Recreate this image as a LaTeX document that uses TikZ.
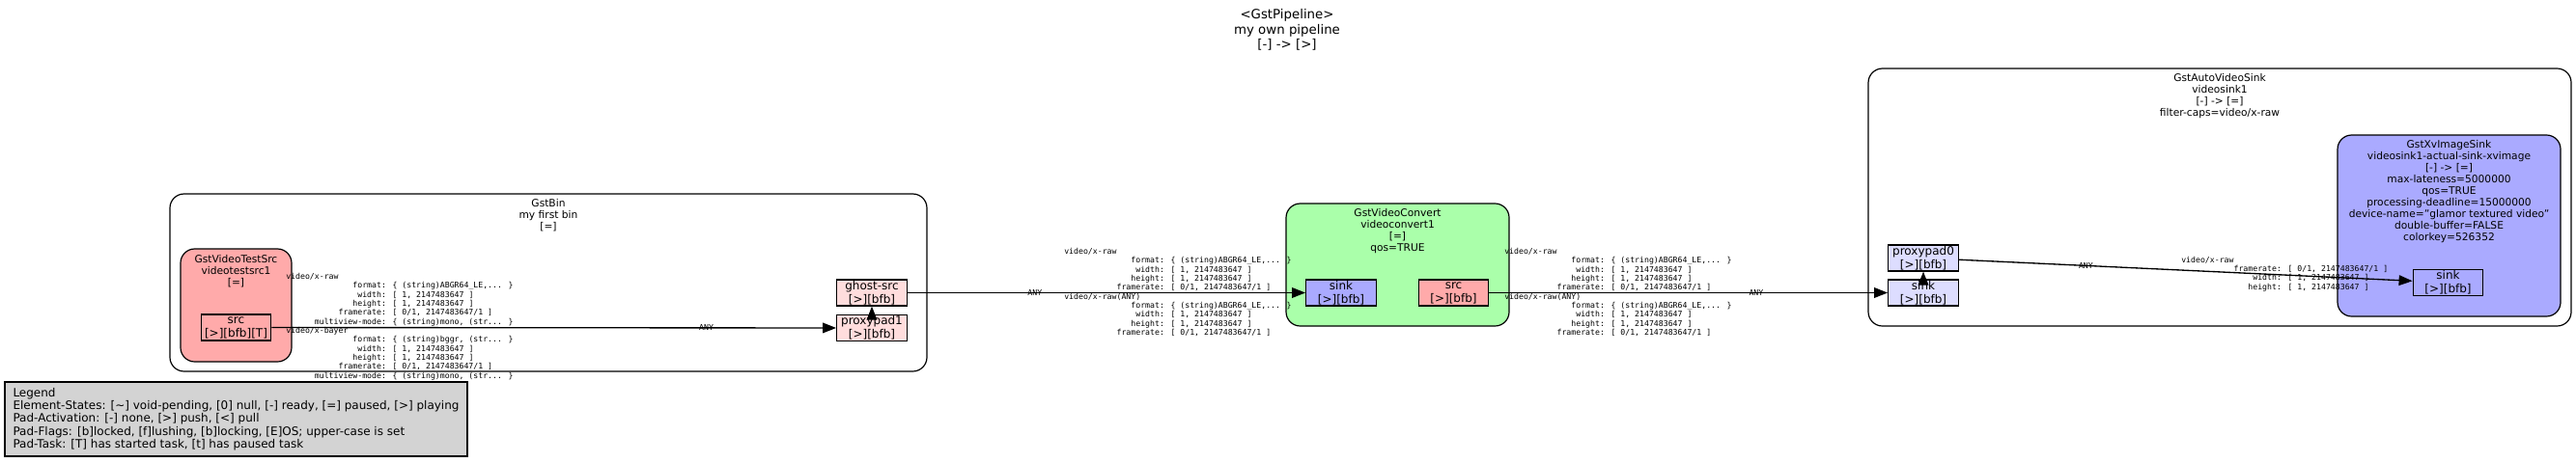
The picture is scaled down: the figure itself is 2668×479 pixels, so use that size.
\documentclass[tikz,border=0pt]{standalone}
\usepackage{fontspec}
\usepackage{xcolor}
\setmainfont{DejaVu Sans}
\newfontfamily\capsmono{DejaVu Sans Mono}
\usetikzlibrary{arrows.meta}

\definecolor{srcfill}{HTML}{FFAAAA}
\definecolor{sinkfill}{HTML}{AAAAFF}
\definecolor{filterfill}{HTML}{AAFFAA}
\definecolor{ghostsrc}{HTML}{FFDDDD}
\definecolor{ghostsink}{HTML}{DDDDFF}
\definecolor{legendfill}{HTML}{D3D3D3}

\newcommand\capfield[2]{\makebox[20\fontcharwd\font`0][r]{#1}: #2}
\newcommand\testcaps{video/x-raw\\
\capfield{format}{\{ (string)ABGR64\_LE,... \}}\\
\capfield{width}{[ 1, 2147483647 ]}\\
\capfield{height}{[ 1, 2147483647 ]}\\
\capfield{framerate}{[ 0/1, 2147483647/1 ]}\\
\capfield{multiview-mode}{\{ (string)mono, (str... \}}\\
video/x-bayer\\
\capfield{format}{\{ (string)bggr, (str... \}}\\
\capfield{width}{[ 1, 2147483647 ]}\\
\capfield{height}{[ 1, 2147483647 ]}\\
\capfield{framerate}{[ 0/1, 2147483647/1 ]}\\
\capfield{multiview-mode}{\{ (string)mono, (str... \}}}
\newcommand\convcaps{video/x-raw\\
\capfield{format}{\{ (string)ABGR64\_LE,... \}}\\
\capfield{width}{[ 1, 2147483647 ]}\\
\capfield{height}{[ 1, 2147483647 ]}\\
\capfield{framerate}{[ 0/1, 2147483647/1 ]}\\
video/x-raw(ANY)\\
\capfield{format}{\{ (string)ABGR64\_LE,... \}}\\
\capfield{width}{[ 1, 2147483647 ]}\\
\capfield{height}{[ 1, 2147483647 ]}\\
\capfield{framerate}{[ 0/1, 2147483647/1 ]}}

\begin{document}
\begin{tikzpicture}[x=0.75pt, y=-0.75pt,
		gstbox/.style={draw, line width=0.9pt, rounded corners=11pt, inner sep=0pt},
		gstpad/.style={draw, line width=0.9pt, inner sep=0pt, minimum width=54.5pt, minimum height=20.25pt, align=center, font=\fontsize{9}{10.5}\selectfont},
		gstlabel/.style={anchor=north, inner sep=0pt, align=center, font=\fontsize{8}{9}\selectfont},
		gstcaps/.style={anchor=west, inner sep=0pt, align=left, font=\capsmono\fontsize{6.15}{7}\selectfont},
		gstany/.style={inner sep=0pt, font=\capsmono\fontsize{6.15}{7}\selectfont},
		gstlink/.style={line width=1pt, -{Triangle[length=10.5pt,width=8pt]}}]
		\useasboundingbox (0,0) rectangle (2668,479);
		\node [anchor=north, inner sep=0pt, align=center, font=\fontsize{10}{11.6}\selectfont] (0) at (1333,9.5) {<GstPipeline>\\my own pipeline\\{}[-] -> [>]};
		% bin with the test source
		\node [gstbox, minimum width=588pt, minimum height=138pt] (1) at (568,293) {};
		\node [gstlabel] (1t) at (568,206) {GstBin\\my first bin\\{}[=]};
		\node [gstbox, fill=srcfill, minimum width=86.25pt, minimum height=87.75pt] (2) at (244.5,316.5) {};
		\node [gstlabel] (2t) at (244.5,264) {GstVideoTestSrc\\videotestsrc1\\{}[=]};
		\node [gstpad, fill=srcfill] (2a) at (244.5,339.5) {src\\{}[>][bfb][T]};
		\node [gstpad, fill=ghostsrc] (1a) at (903,303.5) {ghost-src\\{}[>][bfb]};
		\node [gstpad, fill=ghostsrc] (1b) at (903,340) {proxypad1\\{}[>][bfb]};
		% converter
		\node [gstbox, fill=filterfill, minimum width=173.25pt, minimum height=95.25pt] (3) at (1447.5,274.5) {};
		\node [gstlabel] (3t) at (1447.5,216) {GstVideoConvert\\videoconvert1\\{}[=]\\qos=TRUE};
		\node [gstpad, fill=sinkfill] (3a) at (1389,303.5) {sink\\{}[>][bfb]};
		\node [gstpad, fill=srcfill] (3b) at (1505.5,303.5) {src\\{}[>][bfb]};
		% auto video sink
		\node [gstbox, minimum width=546pt, minimum height=200.25pt] (4) at (2299,204.5) {};
		\node [gstlabel] (4t) at (2299,76) {GstAutoVideoSink\\videosink1\\{}[-] -> [=]\\filter-caps=video/x-raw};
		\node [gstpad, fill=ghostsink] (4a) at (1992,267.5) {proxypad0\\{}[>][bfb]};
		\node [gstpad, fill=ghostsink] (4b) at (1992,303.5) {sink\\{}[>][bfb]};
		\node [gstbox, fill=sinkfill, minimum width=173.25pt, minimum height=141pt] (5) at (2536.5,234) {};
		\node [gstlabel] (5t) at (2536.5,145) {GstXvImageSink\\videosink1-actual-sink-xvimage\\{}[-] -> [=]\\max-lateness=5000000\\qos=TRUE\\processing-deadline=15000000\\device-name="glamor textured video"\\double-buffer=FALSE\\colorkey=526352};
		\node [gstpad, fill=sinkfill] (5a) at (2535.5,293) {sink\\{}[>][bfb]};
		% links
		\draw [gstlink] (2a) -- node [gstany, pos=0.77] (n1) {ANY} (1b);
		\draw [gstlink] (1b) -- (1a);
		\draw [gstlink] (1a) -- node [gstany, pos=0.32] (n2) {ANY} (3a);
		\draw [gstlink] (3b) -- node [gstany, pos=0.67] (n3) {ANY} (4b);
		\draw [gstlink] (4b) -- (4a);
		\draw [gstlink] (4a) -- node [gstany, pos=0.28] (n4) {ANY} (5a);
		\node [gstcaps] (c1) at (296,338.5) {\testcaps};
		\node [gstcaps] (c2) at (1102,303) {\convcaps};
		\node [gstcaps] (c3) at (1558,303) {\convcaps};
		\node [gstcaps] (c4) at (2259,284) {video/x-raw\\\capfield{framerate}{[ 0/1, 2147483647/1 ]}\\\capfield{width}{[ 1, 2147483647 ]}\\\capfield{height}{[ 1, 2147483647 ]}};
		% legend
		\node [draw, fill=legendfill, line width=0.9pt, minimum width=359.25pt, minimum height=57.75pt, align=left, font=\fontsize{9}{10}\selectfont] (6) at (244.5,434.5) {Legend\\Element-States: [\textasciitilde] void-pending, [0] null, [-] ready, [=] paused, [>] playing\\Pad-Activation: [-] none, [>] push, [<] pull\\Pad-Flags: [b]locked, [f]lushing, [b]locking, [E]OS; upper-case is set\\Pad-Task: [T] has started task, [t] has paused task};
	\end{tikzpicture}
\end{document}
